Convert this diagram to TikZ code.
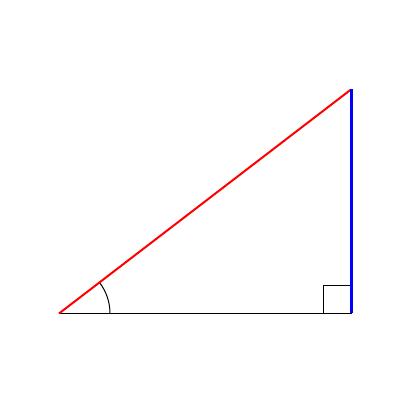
\documentclass[tikz,border=0pt]{standalone}
\begin{document}
\begin{tikzpicture}[x=1pt,y=1pt,
  hyp/.style={red,line width=2pt},
  leg/.style={blue,line width=3pt},
  basel/.style={black,line width=1pt}]
\useasboundingbox (0,0) rectangle (400,400);
\coordinate (A) at (59,86.5);
\coordinate (B) at (351,86.5);
\coordinate (C) at (351,310.5);
\draw[basel] (A) -- (B);
\draw[basel] (B) ++(-28,0) rectangle ++(28,28);
\draw[basel] (A) ++(51,0) arc[start angle=0,end angle=37.5,radius=51];
\draw[hyp] (A) -- (C);
\draw[leg] (B) -- (C);
\end{tikzpicture}
\end{document}
